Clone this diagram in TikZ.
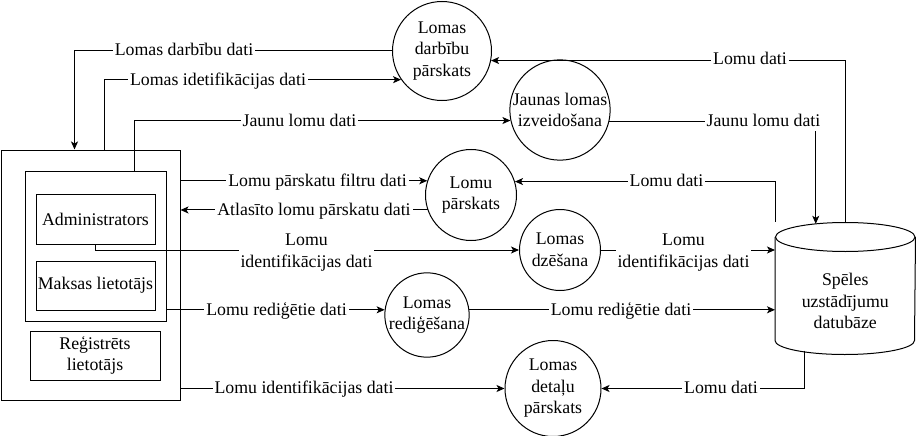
\documentclass[tikz,border=0pt]{standalone}
\usepackage{fontspec}
\setmainfont{Liberation Serif}
\usetikzlibrary{arrows.meta}
\begin{document}
\begin{tikzpicture}[x=1pt,y=-1pt,line width=1pt,
  every node/.style={font=\fontsize{17.8}{21.5}\selectfont},
  box/.style={draw,rectangle,inner sep=0pt,align=center},
  proc/.style={draw,circle,inner sep=0pt,align=center},
  flow/.style={-{Stealth[length=8pt,width=7pt,inset=2pt]}},
  lbl/.style={fill=white,inner sep=2pt,text height=13pt,text depth=3pt},
  lbltwo/.style={fill=white,inner sep=2pt,align=center}]
\useasboundingbox (0,0) rectangle (916,436);

% external entities
\node[box,minimum width=179pt,minimum height=250pt] (outer) at (90.5,275) {};
\node[box,minimum width=141pt,minimum height=150pt] (inner) at (95.5,246) {};
\node[box,minimum width=119pt,minimum height=50pt] (admin) at (95.5,219) {Administrators};
\node[box,minimum width=119pt,minimum height=49pt] (maksas) at (95.5,285.5) {Maksas lietotājs};
\node[box,minimum width=130pt,minimum height=49pt] (reg) at (95,355.5) {Reģistrēts\\lietotājs};

% processes
\node[proc,minimum size=99pt] (darb) at (442,51) {Lomas\\darbību\\pārskats};
\node[proc,minimum size=100pt] (jaun) at (560,110) {Jaunas lomas\\izveidošana};
\node[proc,minimum size=91pt] (lp) at (471,195) {Lomu\\pārskats};
\node[proc,minimum size=81pt] (dz) at (560,250) {Lomas\\dzēšana};
\node[proc,minimum size=82pt] (red) at (427,315) {Lomas\\rediģēšana};
\node[proc,minimum size=96pt] (det) at (553,388.5) {Lomas\\detaļu\\pārskats};

% data store (cylinder)
\node[rectangle,minimum width=139.5pt,minimum height=131pt,inner sep=0pt] (db) at (845.25,288.5) {};
\draw ([yshift=-14.5pt]db.north) ellipse [x radius=69.75pt, y radius=14.5pt];
\draw ([yshift=-14.5pt]db.north west) -- ([yshift=14pt]db.south west)
  arc[start angle=180,end angle=360,x radius=69.75pt,y radius=14pt]
  -- ([yshift=-14.5pt]db.north east);
\node[align=center] (dbtxt) at ([yshift=-12.5pt]db.center) {Spēles\\uzstādījumu\\datubāze};

% flows
\draw[flow] (darb.west) -| ([xshift=74pt]outer.north west);
\node[lbl] (l1) at (184,51) {Lomas darbību dati};

\draw[flow] ([xshift=104pt]outer.north west) |- (darb.215.5);
\node[lbl] (l2) at (218,80) {Lomas idetifikācijas dati};

\draw[flow] ([xshift=110pt]inner.north west) |- (jaun.192.7);
\node[lbl] (l3) at (299.5,121) {Jaunu lomu dati};

\draw[flow] (db.north) |- (darb.349.6);
\node[lbl] (l4) at (750,60) {Lomu dati};

\draw[flow] (jaun.347.3) -| ([xshift=-29.5pt,yshift=-1.3pt]db.north);
\node[lbl] (l5) at (763.5,121) {Jaunu lomu dati};

\draw[flow] (outer.east |- lp.162.3) -- (lp.162.3);
\node[lbl] (l6) at (317.5,181) {Lomu pārskatu filtru dati};

\draw[flow] (lp.199) -- (outer.east |- lp.199);
\node[lbl] (l7) at (314,210) {Atlasīto lomu pārskatu dati};

\draw[flow] ([yshift=1pt]db.north west) |- (lp.17.7);
\node[lbl] (l8) at (666.5,181) {Lomu dati};

\draw[flow] (admin.south) |- (dz.west);
\node[lbltwo] (l9) at (306.5,252.5) {Lomu\\identifikācijas dati};

\draw[flow] (dz.east) -- (dz.east -| db.west);
\node[lbltwo] (l10) at (683.5,252.5) {Lomu\\identifikācijas dati};

\draw[flow] (inner.east |- red.173) -- (red.173);
\node[lbl] (l11) at (276.5,310) {Lomu rediģētie dati};

\draw[flow] (red.7) -- (red.7 -| db.west);
\node[lbl] (l12) at (621,310) {Lomu rediģētie dati};

\draw[flow] (outer.east |- det.west) -- (det.west);
\node[lbl] (l13) at (304,388.5) {Lomu identifikācijas dati};

\draw[flow] ([xshift=-40.5pt,yshift=4pt]db.south) |- (det.east);
\node[lbl] (l14) at (721,388.5) {Lomu dati};
\end{tikzpicture}
\end{document}
